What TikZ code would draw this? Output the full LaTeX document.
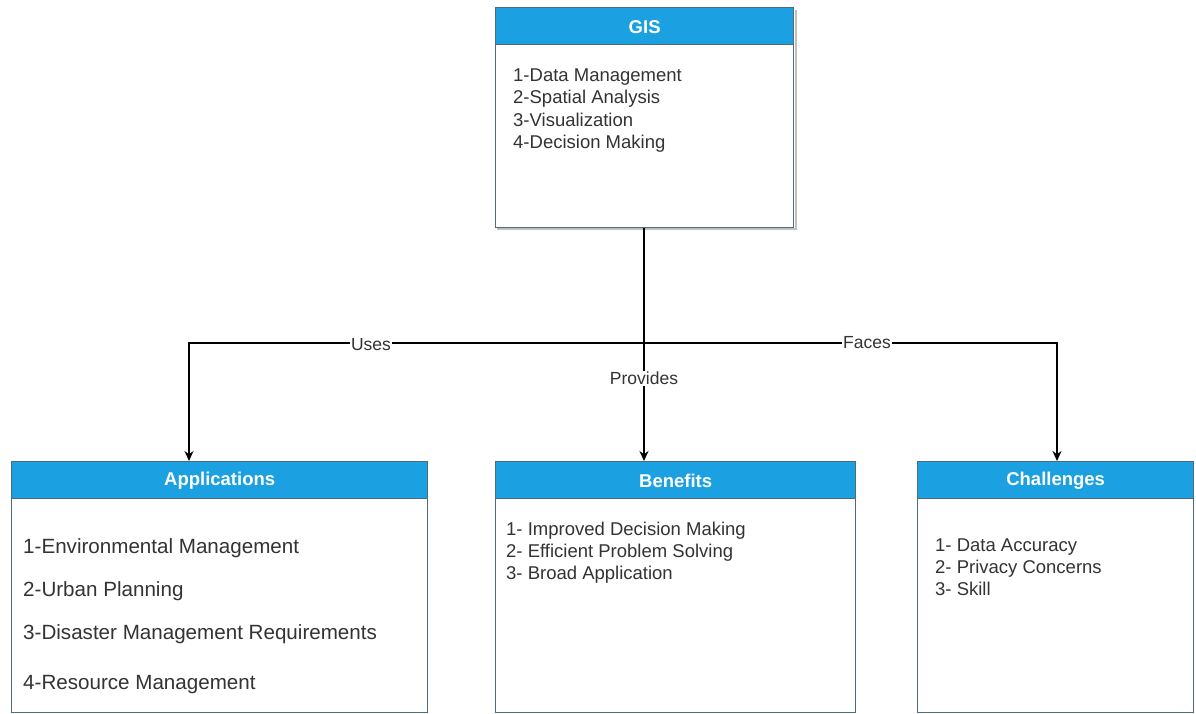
\documentclass[tikz,border=0pt]{standalone}
\usepackage{fontspec}
\setmainfont{Liberation Sans}
\usetikzlibrary{arrows.meta}
\definecolor{hdr}{HTML}{1BA1E2}
\definecolor{bord}{HTML}{4F6B78}
\definecolor{txt}{HTML}{333333}
\tikzset{
  boxbody/.style={draw=bord, line width=1.3pt, fill=white, anchor=north west, inner sep=0pt},
  boxhead/.style={fill=hdr, draw=bord, line width=1.3pt, anchor=north west, inner sep=0pt, minimum height=37pt},
  headtext/.style={text=white, font=\fontsize{18.5}{22}\selectfont\bfseries},
  item/.style={anchor=mid west, inner sep=0pt, text=txt, font=\fontsize{18.5}{22}\selectfont},
  bigitem/.style={item, font=\fontsize{20.6}{24}\selectfont},
  lbl/.style={fill=white, inner sep=1pt, text=txt, font=\fontsize{17.5}{20}\selectfont},
  conn/.style={line width=1.4pt, black},
  arr/.style={conn, -{Stealth[length=10pt,width=9pt]}},
  shadowline/.style={draw=black!25, line width=1.5pt}
}
\begin{document}
\begin{tikzpicture}[x=1pt,y=-1pt]
\useasboundingbox (0,0) rectangle (1196,713);
% shadows
\draw[shadowline] (497,229) -- (796,229) -- (796,10);
% GIS
\node[boxbody, minimum width=298pt, minimum height=220pt] (gis) at (495,7) {};
\node[boxhead, minimum width=298pt] (gish) at (495,7) {};
\node[headtext] (gist) at ([yshift=-1pt]gish.center) {GIS};
\node[item] (g1) at (513,79) {1-Data Management};
\node[item] (g2) at (513,101) {2-Spatial Analysis};
\node[item] (g3) at (513,124) {3-Visualization};
\node[item] (g4) at (513,146) {4-Decision Making};
% Applications
\node[boxbody, minimum width=416pt, minimum height=251pt] (app) at (11,461) {};
\node[boxhead, minimum width=416pt] (apph) at (11,461) {};
\node[headtext] (appt) at ([yshift=-1pt]apph.center) {Applications};
\node[bigitem] (a1) at (23,551) {1-Environmental Management};
\node[bigitem] (a2) at (23,594) {2-Urban Planning};
\node[bigitem] (a3) at (23,637) {3-Disaster Management Requirements};
\node[bigitem] (a4) at (23,687) {4-Resource Management};
% Benefits
\node[boxbody, minimum width=360pt, minimum height=251pt] (ben) at (495,461) {};
\node[boxhead, minimum width=360pt] (benh) at (495,461) {};
\node[headtext] (bent) at ([yshift=-1pt]benh.center) {Benefits};
\node[item] (b1) at (506,533) {1- Improved Decision Making};
\node[item] (b2) at (506,555) {2- Efficient Problem Solving};
\node[item] (b3) at (506,577) {3- Broad Application};
% Challenges
\node[boxbody, minimum width=276pt, minimum height=251pt] (cha) at (917,461) {};
\node[boxhead, minimum width=276pt] (chah) at (917,461) {};
\node[headtext] (chat) at ([yshift=-1pt]chah.center) {Challenges};
\node[item] (c1) at (935,549) {1- Data Accuracy};
\node[item] (c2) at (935,571) {2- Privacy Concerns};
\node[item] (c3) at (935,593) {3- Skill};
% connectors
\coordinate (j) at (644,343);
\draw[conn] (gis.south -| j) -- (j);
\draw[arr] (j) -- (j |- ben.north) node[lbl, pos=0.3] (lprov) {Provides};
\draw[arr] (j) -- (189,343) node[lbl, pos=0.6, yshift=-2pt] (luses) {Uses} -- (189,461);
\draw[arr] (j) -- (1057,343) node[lbl, pos=0.54] (lfaces) {Faces} -- (1057,461);
\end{tikzpicture}
\end{document}
